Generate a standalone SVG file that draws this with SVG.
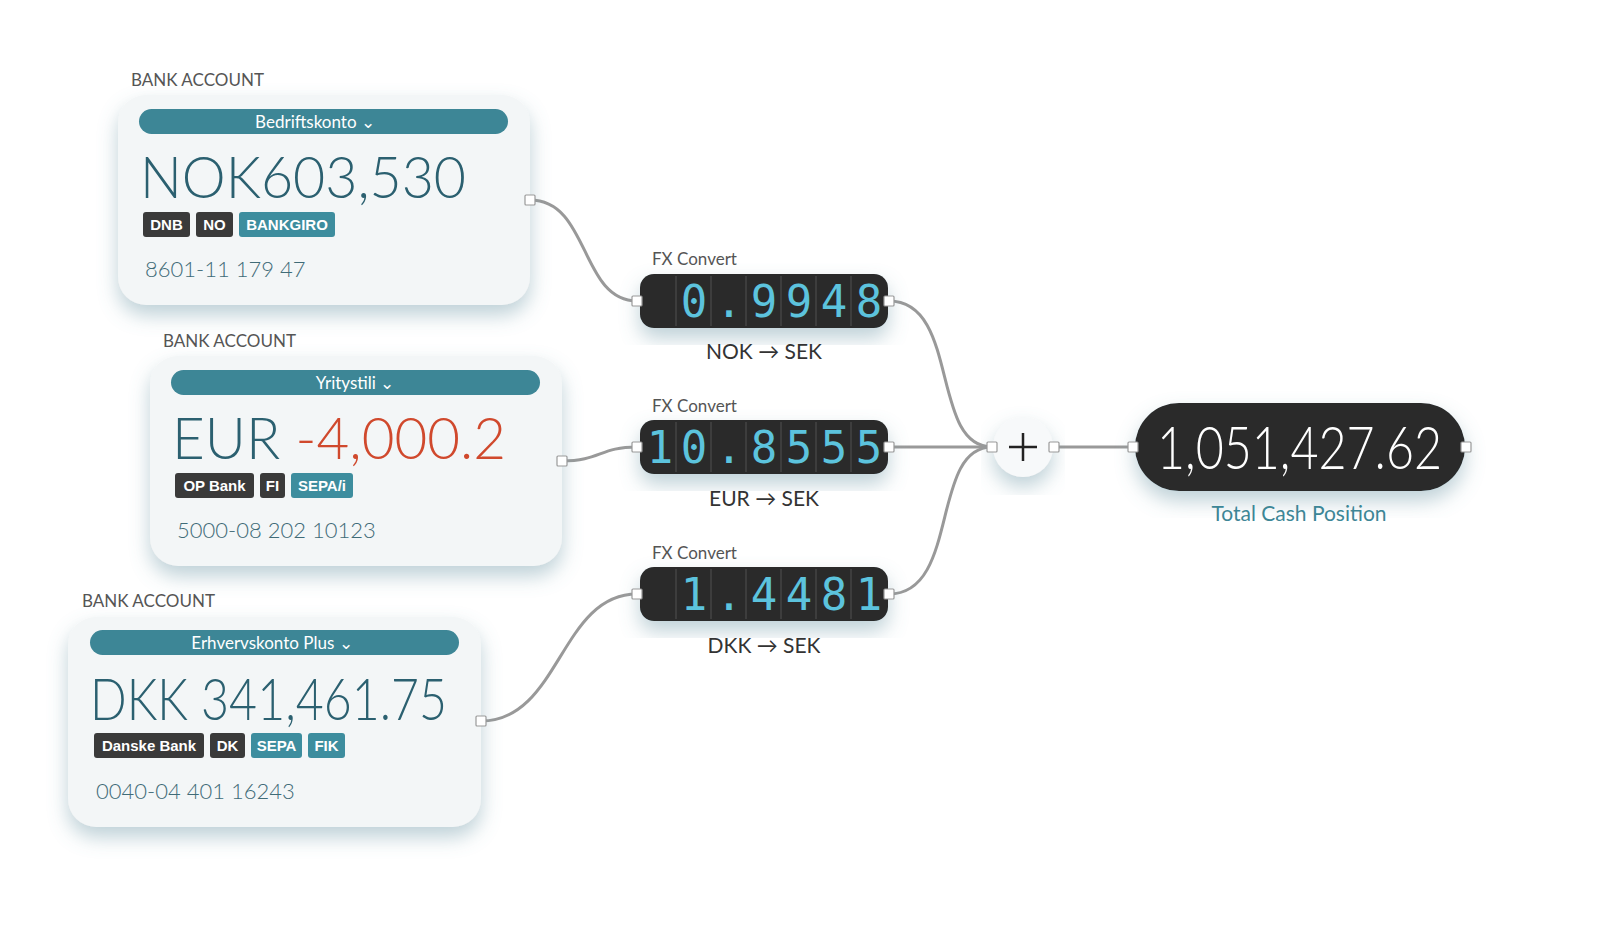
<svg xmlns="http://www.w3.org/2000/svg" width="1600" height="931" viewBox="0 0 1600 931">
<defs>
<filter id="sh" x="-20%" y="-20%" width="140%" height="150%"><feDropShadow dx="0" dy="10" stdDeviation="10" flood-color="#6f98a6" flood-opacity="0.45"/></filter>
<style>
text{font-family:Lato,"Noto Sans",sans-serif}
.card{fill:#f3f6f7;filter:url(#sh)}
.lbl{font-size:17px;fill:#555}
.pill{fill:#3d8696}
.pt{font-size:17px;fill:#fff;text-anchor:middle}
.amt{font-size:58px;fill:#2b6070;font-weight:300}
.bd{fill:#3a3a3a}
.bt{fill:#3d8d9e}
.btx{font-family:"Liberation Sans",sans-serif;font-weight:bold;font-size:15px;fill:#fff;text-anchor:middle}
.acc{font-size:22px;fill:#3f6b77;font-weight:300}
.fx{fill:#2a2a2a;filter:url(#sh)}
.dg{font-family:"DejaVu Sans Mono",monospace;font-size:44px;fill:#5cc3dd;text-anchor:middle}
.sep{stroke:#444;stroke-width:1.5}
.sub{font-size:21px;fill:#333;text-anchor:middle}
.port{fill:#fff;stroke:#999;stroke-width:1.2}
.wire{fill:none;stroke:#999;stroke-width:3}
</style>
</defs>
<rect width="1600" height="931" fill="#fff"/>
<g id="connectors">
<path class="wire" d="M530,200 C590,200 580,301 637,301"/>
<path class="wire" d="M562,461 C600,461 600,447 637,447"/>
<path class="wire" d="M481,721 C560,721 560,594 637,594"/>
<path class="wire" d="M889,301 C960,301 930,447 992,447"/>
<path class="wire" d="M889,447 L992,447"/>
<path class="wire" d="M889,594 C960,594 930,447 992,447"/>
<path class="wire" d="M1054,447 L1133,447"/>
</g>
<g id="acc1">
<text class="lbl" x="131" y="86">BANK ACCOUNT</text>
<rect class="card" x="118" y="95" width="412" height="210" rx="28"/>
<rect class="pill" x="139" y="109" width="369" height="25" rx="12.5"/>
<text class="pt" x="315" y="128">Bedriftskonto ⌄</text>
<text class="amt" x="140" y="198" textLength="326" lengthAdjust="spacingAndGlyphs">NOK603,530</text>
<rect class="bd" x="143" y="212" width="47" height="25" rx="3"/><text class="btx" x="166.5" y="230">DNB</text>
<rect class="bd" x="196" y="212" width="37" height="25" rx="3"/><text class="btx" x="214.5" y="230">NO</text>
<rect class="bt" x="239" y="212" width="96" height="25" rx="3"/><text class="btx" x="287" y="230">BANKGIRO</text>
<text class="acc" x="145" y="277">8601-11 179 47</text>
<rect class="port" x="525" y="195" width="10" height="10" rx="1"/>
</g>
<g id="acc2">
<text class="lbl" x="163" y="347">BANK ACCOUNT</text>
<rect class="card" x="150" y="356" width="412" height="210" rx="28"/>
<rect class="pill" x="171" y="370" width="369" height="25" rx="12.5"/>
<text class="pt" x="355" y="389">Yritystili ⌄</text>
<text class="amt" x="172" y="459" textLength="334" lengthAdjust="spacingAndGlyphs">EUR <tspan fill="#d0492d">-4,000.2</tspan></text>
<rect class="bd" x="175" y="473" width="79" height="25" rx="3"/><text class="btx" x="214.5" y="491">OP Bank</text>
<rect class="bd" x="260" y="473" width="25" height="25" rx="3"/><text class="btx" x="272.5" y="491">FI</text>
<rect class="bt" x="291" y="473" width="62" height="25" rx="3"/><text class="btx" x="322" y="491">SEPA/i</text>
<text class="acc" x="177" y="538">5000-08 202 10123</text>
<rect class="port" x="557" y="456" width="10" height="10" rx="1"/>
</g>
<g id="acc3">
<text class="lbl" x="82" y="607">BANK ACCOUNT</text>
<rect class="card" x="68" y="617" width="413" height="210" rx="28"/>
<rect class="pill" x="90" y="630" width="369" height="25" rx="12.5"/>
<text class="pt" x="272" y="649">Erhvervskonto Plus ⌄</text>
<text class="amt" x="90" y="720" textLength="357" lengthAdjust="spacingAndGlyphs">DKK 341,461.75</text>
<rect class="bd" x="94" y="733" width="110" height="25" rx="3"/><text class="btx" x="149" y="751">Danske Bank</text>
<rect class="bd" x="210" y="733" width="35" height="25" rx="3"/><text class="btx" x="227.5" y="751">DK</text>
<rect class="bt" x="251" y="733" width="51" height="25" rx="3"/><text class="btx" x="276.5" y="751">SEPA</text>
<rect class="bt" x="308" y="733" width="37" height="25" rx="3"/><text class="btx" x="326.5" y="751">FIK</text>
<text class="acc" x="96" y="799">0040-04 401 16243</text>
<rect class="port" x="476" y="716" width="10" height="10" rx="1"/>
</g>
<g id="fx1">
<text class="lbl" x="652" y="265">FX Convert</text>
<rect class="fx" x="640" y="274" width="248" height="54" rx="14"/>
<g class="sep"><line x1="676" y1="276" x2="676" y2="326"/><line x1="711" y1="276" x2="711" y2="326"/><line x1="746" y1="276" x2="746" y2="326"/><line x1="781" y1="276" x2="781" y2="326"/><line x1="816" y1="276" x2="816" y2="326"/><line x1="851" y1="276" x2="851" y2="326"/></g>
<text class="dg" y="317"><tspan x="694">0</tspan><tspan x="729">.</tspan><tspan x="764">9</tspan><tspan x="799">9</tspan><tspan x="834">4</tspan><tspan x="869">8</tspan></text>
<text class="sub" x="764" y="359">NOK → SEK</text>
<rect class="port" x="632" y="296" width="10" height="10" rx="1"/><rect class="port" x="884" y="296" width="10" height="10" rx="1"/>
</g>
<g id="fx2">
<text class="lbl" x="652" y="412">FX Convert</text>
<rect class="fx" x="640" y="420" width="248" height="54" rx="14"/>
<g class="sep"><line x1="676" y1="422" x2="676" y2="472"/><line x1="711" y1="422" x2="711" y2="472"/><line x1="746" y1="422" x2="746" y2="472"/><line x1="781" y1="422" x2="781" y2="472"/><line x1="816" y1="422" x2="816" y2="472"/><line x1="851" y1="422" x2="851" y2="472"/></g>
<text class="dg" y="463"><tspan x="660">1</tspan><tspan x="694">0</tspan><tspan x="729">.</tspan><tspan x="764">8</tspan><tspan x="799">5</tspan><tspan x="834">5</tspan><tspan x="869">5</tspan></text>
<text class="sub" x="764" y="506">EUR → SEK</text>
<rect class="port" x="632" y="442" width="10" height="10" rx="1"/><rect class="port" x="884" y="442" width="10" height="10" rx="1"/>
</g>
<g id="fx3">
<text class="lbl" x="652" y="559">FX Convert</text>
<rect class="fx" x="640" y="567" width="248" height="54" rx="14"/>
<g class="sep"><line x1="676" y1="569" x2="676" y2="619"/><line x1="711" y1="569" x2="711" y2="619"/><line x1="746" y1="569" x2="746" y2="619"/><line x1="781" y1="569" x2="781" y2="619"/><line x1="816" y1="569" x2="816" y2="619"/><line x1="851" y1="569" x2="851" y2="619"/></g>
<text class="dg" y="610"><tspan x="694">1</tspan><tspan x="729">.</tspan><tspan x="764">4</tspan><tspan x="799">4</tspan><tspan x="834">8</tspan><tspan x="869">1</tspan></text>
<text class="sub" x="764" y="653">DKK → SEK</text>
<rect class="port" x="632" y="589" width="10" height="10" rx="1"/><rect class="port" x="884" y="589" width="10" height="10" rx="1"/>
</g>
<g id="sum">
<circle cx="1023" cy="447" r="30" fill="#f7f9fa" style="filter:url(#sh)"/>
<path d="M1009,447 H1037 M1023,433 V461" stroke="#222" stroke-width="2.5"/>
<rect class="port" x="987" y="442" width="10" height="10" rx="1"/><rect class="port" x="1049" y="442" width="10" height="10" rx="1"/>
</g>
<g id="total">
<rect class="fx" x="1135" y="403" width="330" height="88" rx="44"/>
<text x="1157" y="469" font-size="60" fill="#fff" font-weight="300" textLength="285" lengthAdjust="spacingAndGlyphs">1,051,427.62</text>
<text x="1299" y="521" font-size="21" fill="#3d8696" text-anchor="middle">Total Cash Position</text>
<rect class="port" x="1128" y="442" width="10" height="10" rx="1"/><rect class="port" x="1461" y="442" width="10" height="10" rx="1"/>
</g>
</svg>
